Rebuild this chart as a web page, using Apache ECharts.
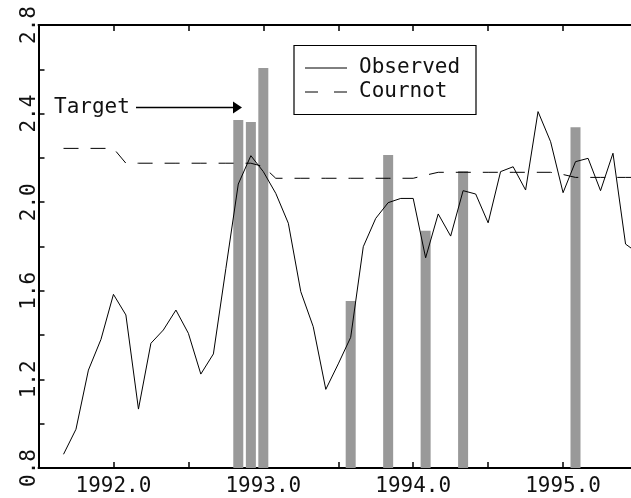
<!DOCTYPE html>
<html><head><meta charset="utf-8">
<script src="https://cdn.jsdelivr.net/npm/echarts@6/dist/echarts.min.js"></script>
<style>html,body{margin:0;padding:0;background:#fff;overflow:hidden}#c{width:641px;height:498px}</style>
</head><body><div id="c"></div>
<script>
// Monthly time points (decimal years)
const months = [1991.667,1991.750,1991.833,1991.917,1992.000,
  1992.083,1992.167,1992.250,1992.333,1992.417,1992.500,1992.583,1992.667,1992.750,1992.833,1992.917,1993.000,
  1993.083,1993.167,1993.250,1993.333,1993.417,1993.500,1993.583,1993.667,1993.750,1993.833,1993.917,1994.000,
  1994.083,1994.167,1994.250,1994.333,1994.417,1994.500,1994.583,1994.667,1994.750,1994.833,1994.917,1995.000,
  1995.083,1995.167,1995.250,1995.333,1995.417,1995.500];
const observed = [0.862,0.975,1.242,1.381,1.584,
  1.491,1.066,1.363,1.423,1.513,1.408,1.224,1.315,1.700,2.082,2.210,2.138,
  2.040,1.905,1.596,1.438,1.155,1.270,1.390,1.799,1.927,1.998,2.017,2.017,
  1.749,1.947,1.847,2.052,2.037,1.907,2.138,2.160,2.055,2.409,2.273,2.043,
  2.183,2.198,2.052,2.221,1.811,1.770];
const cournot = [2.243,2.243,2.243,2.243,2.243,
  2.176,2.176,2.176,2.176,2.176,2.176,2.176,2.176,2.176,2.176,2.176,2.161,
  2.108,2.108,2.108,2.108,2.108,2.108,2.108,2.108,2.108,2.108,2.108,2.108,
  2.122,2.135,2.135,2.135,2.135,2.135,2.135,2.135,2.135,2.135,2.135,2.125,
  2.112,2.112,2.112,2.112,2.112,2.112];
const targetTimes = [1992.833,1992.917,1993.000,1993.583,1993.833,1994.083,1994.333,1995.083];
const targetValues = [2.371,2.362,2.606,1.554,2.213,1.871,2.141,2.338];
const seriesNames = ['Observed','Cournot'];
const annotationText = 'Target';

const FONT = 'DejaVu Sans Mono';
const chart = echarts.init(document.getElementById('c'), null, {renderer:'canvas'});
const pair = (xs, ys) => xs.map((x,i)=>[x, ys[i]]);

chart.setOption({
  animation:false,
  backgroundColor:'#fff',
  grid:{left:38.5, right:0, top:25, bottom:30, containLabel:false},
  xAxis:[{
    type:'value', min:1991.5, max:1995.5, interval:0.5, position:'bottom',
    axisLine:{show:true, lineStyle:{color:'#000', width:2}},
    axisTick:{show:true, inside:true, length:6, lineStyle:{color:'#000', width:1.5}},
    splitLine:{show:false},
    axisLabel:{show:true, margin:8, color:'#111', fontFamily:FONT, fontSize:21,
      formatter:v=> (Math.abs(v-Math.round(v))<1e-6 && v>1991.6) ? v.toFixed(1) : ''}
  },{
    type:'value', min:1991.5, max:1995.5, interval:0.5, position:'top',
    axisLine:{show:true, lineStyle:{color:'#000', width:2}},
    axisTick:{show:true, inside:true, length:6, lineStyle:{color:'#000', width:1.5}},
    splitLine:{show:false}, axisLabel:{show:false}
  }],
  yAxis:{
    type:'value', min:0.8, max:2.8, interval:0.2,
    axisLine:{show:true, lineStyle:{color:'#000', width:2}},
    axisTick:{show:true, inside:true, length:6, lineStyle:{color:'#000', width:1.5}},
    splitLine:{show:false},
    axisLabel:{show:true, rotate:90, margin:-2, color:'#111', fontFamily:FONT, fontSize:21,
      formatter:v=> (Math.round(v*10)%4===0) ? v.toFixed(1) : ''}
  },
  series:[
    {type:'bar', name:annotationText, data:pair(targetTimes,targetValues), barWidth:10,
     itemStyle:{color:'#999999'}, clip:true, z:1},
    {type:'line', name:seriesNames[0], data:pair(months,observed), symbol:'none',
     lineStyle:{color:'#000', width:1}, z:3},
    {type:'line', name:seriesNames[1], data:pair(months,cournot), symbol:'none',
     lineStyle:{color:'#000', width:1, type:[15,12]}, z:3}
  ],
  graphic:[
    {type:'rect', shape:{x:294, y:45.5, width:182, height:69}, style:{fill:'#fff', stroke:'#000', lineWidth:1.2}, z:10},
    {type:'line', shape:{x1:305, y1:68, x2:347, y2:68}, style:{stroke:'#000', lineWidth:1}, z:11},
    {type:'line', shape:{x1:305, y1:92, x2:347, y2:92}, style:{stroke:'#000', lineWidth:1, lineDash:[13,16]}, z:11},
    {type:'text', x:359, y:68, style:{text:seriesNames[0], font:'21px '+FONT, fill:'#111', verticalAlign:'middle'}, z:11},
    {type:'text', x:359, y:92, style:{text:seriesNames[1], font:'21px '+FONT, fill:'#111', verticalAlign:'middle'}, z:11},
    {type:'text', x:54, y:107.5, style:{text:annotationText, font:'21px '+FONT, fill:'#111', verticalAlign:'middle'}, z:11},
    {type:'line', shape:{x1:136, y1:107.5, x2:235, y2:107.5}, style:{stroke:'#000', lineWidth:1.5}, z:11},
    {type:'polygon', shape:{points:[[233,101.5],[242,107.5],[233,113.5]]}, style:{fill:'#000'}, z:11}
  ]
});
</script></body></html>
